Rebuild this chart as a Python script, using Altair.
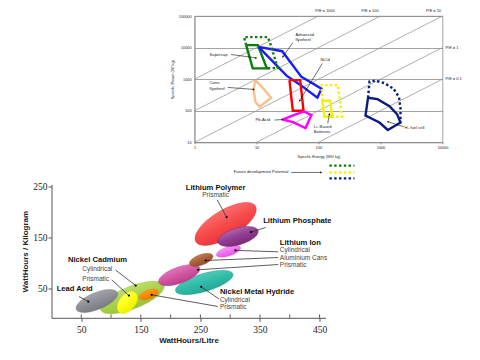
import math
import altair as alt
import numpy as np
import pandas as pd

FONT = "Liberation Sans"
SERIF = "Liberation Serif"

# ---------------- top chart (Ragone plot) data ----------------
pe_ratio = [1000, 100, 10, 1, 0.1]
pe_top_text = ["P/E = 1000", "P/E = 100", "P/E = 10"]
pe_top_E = [127, 677, 7160]
pe_side_text = ["P/E = 1", "P/E = 0.1"]
pe_side_P = [10000, 1000]

supercap_E = [6.8, 10.5, 14.7, 8.7]
supercap_P = [12000, 12000, 2200, 2200]
flywheel_adv_E = [10.8, 26, 53, 112, 96, 49, 30.5]
flywheel_adv_P = [10480, 7670, 1183, 501, 260, 695, 1290]
nicd_E = [34, 50.7, 57.3, 38.5]
nicd_P = [930, 930, 100, 100]
flywheel_conv_E = [9.5, 11.9, 14.3, 17.3, 11.2, 9.6, 9.0]
flywheel_conv_P = [929, 601, 397, 257, 133, 192, 449]
pbacid_E = [26.3, 38.1, 58.3, 77, 61.7, 38.8]
pbacid_P = [52.5, 70.3, 95, 72.9, 28.3, 43.8]
li_E = [115, 154.5, 166, 125]
li_P = [206, 206, 64.4, 64.4]
h2_E = [629, 895, 1396, 1847, 2102, 1312, 963, 573]
h2_P = [256.6, 233, 140, 78.4, 42.3, 24.5, 42.3, 70.3]

supercap_fut_E = [6.8, 6.3, 15.2, 16.6, 22, 14.7]
supercap_fut_P = [12000, 21500, 21500, 14000, 2250, 2200]
li_fut_E = [115, 112, 205, 239, 166]
li_fut_P = [206, 646, 646, 64.4, 64.4]
h2_fut_E = [629, 665, 830, 1161, 1622, 1987, 2100, 2102]
h2_fut_P = [256.6, 834, 898, 748, 500, 270, 121, 42.3]

legend_E = [150, 380]
legend_P = [1.82, 1.11, 0.718]

ann_text = ["Supercap", "Advanced", "flywheel", "NiCd", "Conv.", "flywheel",
            "Pb-Acid", "Li- Based", "Batteries", "H\u2082 fuel cell",
            "Future development Potential"]
ann_E = [1.75, 42.6, 42.6, 107.7, 1.75, 1.75, 9.64, 84, 84, 2438, 4.29]
ann_P = [6030, 25800, 17700, 4190, 731, 473, 50.7, 31.1, 21.6, 27.7, 1.11]

arrow_E1 = [3.9, 38.5, 115, 3.44, 19.5, 141, 2376, 36.3]
arrow_P1 = [6030, 14450, 3133, 547, 50.7, 39.8, 31.1, 1.11]
arrow_E2 = [9.9, 26.6, 49.4, 9.04, 26.3, 150, 1312, 110.6]
arrow_P2 = [4710, 5070, 206, 473, 52.5, 78.4, 44.8, 1.11]

W_T, H_T = 248, 126.3

solid_shapes = {
    "supercap": (supercap_E, supercap_P, "#0b7d0b"),
    "flywheel_adv": (flywheel_adv_E, flywheel_adv_P, "#1a1aff"),
    "nicd": (nicd_E, nicd_P, "#ff0000"),
    "flywheel_conv": (flywheel_conv_E, flywheel_conv_P, "#f9c08a"),
    "pbacid": (pbacid_E, pbacid_P, "#ff00ff"),
    "li": (li_E, li_P, "#f2f200"),
    "h2": (h2_E, h2_P, "#0a1a80"),
}
dotted_shapes = {
    "supercap_f": (supercap_fut_E, supercap_fut_P, "#0b7d0b"),
    "li_f": (li_fut_E, li_fut_P, "#f2f200"),
    "h2_f": (h2_fut_E, h2_fut_P, "#0a1a80"),
    "leg_g": (legend_E, [legend_P[0]] * 2, "#0b7d0b"),
    "leg_y": (legend_E, [legend_P[1]] * 2, "#f2f200"),
    "leg_n": (legend_E, [legend_P[2]] * 2, "#0a1a80"),
}


def shape_frame(shapes, close):
    rows = []
    for name, (E, P, col) in shapes.items():
        pts = list(zip(E, P))
        if close:
            pts = pts + [pts[0]]
        for i, (e, p) in enumerate(pts):
            rows.append(dict(shape=name, E=e, P=p, o=i, col=col))
    return pd.DataFrame(rows)


diag_rows = []
for r in pe_ratio:
    e0 = max(1, 10 / r)
    e1 = min(10000, 100000 / r)
    for i, e in enumerate([e0, e1]):
        diag_rows.append(dict(grp=str(r), E=e, P=e * r, o=i))
diag_df = pd.DataFrame(diag_rows)

xs_T = alt.Scale(type="log", domain=[1, 10000])
ys_T = alt.Scale(type="log", domain=[10, 100000])

axis_xT = alt.Axis(values=[1, 10, 100, 1000, 10000], format="d",
                   title="Specific Energy (Wh/ kg)", titleFont=FONT, titleFontSize=3.9,
                   titleFontWeight="normal", titleColor="#222", titlePadding=5,
                   labelFont=FONT, labelFontSize=3.8, labelColor="#222", labelPadding=2,
                   tickSize=1.5, tickColor="#888", domainColor="#8c8c8c", domainWidth=0.8,
                   grid=False, labelFlush=False)
axis_yT = alt.Axis(values=[10, 100, 1000, 10000, 100000], format="d",
                   title="Specific Power (W/ kg)", titleFont=FONT, titleFontSize=3.9,
                   titleFontWeight="normal", titleColor="#222", titlePadding=4,
                   labelFont=FONT, labelFontSize=3.8, labelColor="#222", labelPadding=3.5,
                   tickSize=0, domainColor="#8c8c8c", domainWidth=0.8,
                   grid=True, gridColor="#8c8c8c", gridWidth=0.8, labelFlush=False)

diag = alt.Chart(diag_df).mark_line(color="#8c8c8c", strokeWidth=0.7).encode(
    x=alt.X("E:Q", scale=xs_T, axis=axis_xT),
    y=alt.Y("P:Q", scale=ys_T, axis=axis_yT),
    detail="grp:N", order="o:Q")

solid = alt.Chart(shape_frame(solid_shapes, True)).mark_line(strokeWidth=2.4, strokeJoin="miter").encode(
    x=alt.X("E:Q", scale=xs_T), y=alt.Y("P:Q", scale=ys_T),
    color=alt.Color("col:N", scale=None), detail="shape:N", order="o:Q")

dotted = alt.Chart(shape_frame(dotted_shapes, False)).mark_line(
    strokeWidth=2.4, strokeDash=[2.4, 2.4], strokeCap="butt").encode(
    x=alt.X("E:Q", scale=xs_T), y=alt.Y("P:Q", scale=ys_T),
    color=alt.Color("col:N", scale=None), detail="shape:N", order="o:Q")

px_dec_x = W_T / 4.0
px_dec_y = H_T / 4.0
arr_ang = []
for e1, p1, e2, p2 in zip(arrow_E1, arrow_P1, arrow_E2, arrow_P2):
    dx = (math.log10(e2) - math.log10(e1)) * px_dec_x
    dys = -(math.log10(p2) - math.log10(p1)) * px_dec_y
    arr_ang.append(math.degrees(math.atan2(dx, -dys)) % 360)
arrow_df = pd.DataFrame(dict(E1=arrow_E1, P1=arrow_P1, E2=arrow_E2, P2=arrow_P2, ang=arr_ang))

arrows = alt.Chart(arrow_df).mark_rule(color="#111", strokeWidth=0.6).encode(
    x=alt.X("E1:Q", scale=xs_T), x2="E2:Q",
    y=alt.Y("P1:Q", scale=ys_T), y2="P2:Q")
heads = alt.Chart(arrow_df).mark_point(shape="triangle-up", filled=True, size=5, color="#111", opacity=1).encode(
    x=alt.X("E2:Q", scale=xs_T), y=alt.Y("P2:Q", scale=ys_T),
    angle=alt.Angle("ang:Q", scale=None))

ann = alt.Chart(pd.DataFrame(dict(E=ann_E, P=ann_P, t=ann_text))).mark_text(
    font=FONT, fontSize=4.2, align="left", baseline="middle", color="#222").encode(
    x=alt.X("E:Q", scale=xs_T), y=alt.Y("P:Q", scale=ys_T), text="t:N")

pe_top = alt.Chart(pd.DataFrame(dict(E=pe_top_E, P=[100000] * 3, t=pe_top_text))).mark_text(
    font=FONT, fontSize=3.9, align="center", baseline="middle", dy=-5, color="#222").encode(
    x=alt.X("E:Q", scale=xs_T), y=alt.Y("P:Q", scale=ys_T), text="t:N")
pe_side = alt.Chart(pd.DataFrame(dict(E=[10000] * 2, P=pe_side_P, t=pe_side_text))).mark_text(
    font=FONT, fontSize=3.9, align="left", baseline="middle", dx=3, color="#222").encode(
    x=alt.X("E:Q", scale=xs_T), y=alt.Y("P:Q", scale=ys_T), text="t:N")

top = alt.layer(diag, solid, dotted, arrows, heads, ann, pe_top, pe_side).properties(
    width=W_T, height=H_T, view=alt.ViewBackground(stroke="#8c8c8c", strokeWidth=0.8))

# ---------------- bottom chart (energy density ellipses) ----------------
ell_name = ["NiCd cyl", "Lead acid", "NiCd prism", "NiMH prism", "NiMH cyl",
            "Li prism", "Li alu", "Li cyl", "Li polymer", "Li phosphate"]
ell_x1 = [82.6, 41.7, 113.6, 147.3, 208.3, 180.1, 231.9, 277.0, 242.3, 279.6]
ell_y1 = [7.4, 8.5, 2.9, 30.9, 44.3, 61.1, 97.3, 114.5, 140.8, 139.6]
ell_x2 = [188.8, 110.5, 140.9, 178.9, 304.5, 248.8, 270.8, 317.4, 342.3, 346.8]
ell_y2 = [56.2, 41.3, 40.9, 44.4, 77.9, 89.9, 113.8, 129.8, 210.7, 162.9]
ell_ratio = [0.33, 0.38, 0.63, 0.43, 0.30, 0.37, 0.42, 0.36, 0.40, 0.40]
ell_light = ["#d3ea8a", "#b8b8bf", "#ffff80", "#ffa850", "#6cd9c6", "#ec90d2", "#cf9168", "#ffb8ff", "#ff9090", "#c07dc0"]
ell_base = ["#a8d14a", "#8e8e96", "#ffff10", "#ff8800", "#30bba8", "#d2559f", "#a9603a", "#f070f0", "#f74a4a", "#913c91"]
ell_dark = ["#88b52c", "#68686f", "#e0e000", "#e26c00", "#1a9787", "#ab2a83", "#86421f", "#d148d1", "#d9202e", "#6b1f6b"]

lbl_bold = ["Lithium Polymer", "Lithium Phosphate", "Lithium Ion", "Nickel Metal Hydride",
            "Nickel Cadmium", "Lead Acid"]
lbl_bold_x = [275.5, 355.4, 383.4, 282.7, 27.7, 8.7]
lbl_bold_y = [247.1, 182.5, 139.4, 42.3, 105.5, 48.2]
lbl_bold_align = ["center", "left", "left", "left", "left", "left"]

lbl_sub = ["Prismatic", "Cylindrical", "Aluminium Cans", "Prismatic", "Cylindrical",
           "Prismatic", "Cylindrical", "Prismatic"]
lbl_sub_x = [275.5, 383.4, 383.4, 383.4, 282.7, 282.7, 51.7, 51.7]
lbl_sub_y = [232.8, 124.5, 110.0, 95.7, 27.2, 12.9, 87.3, 68.9]
lbl_sub_align = ["center", "left", "left", "left", "left", "left", "left", "left"]

lead_x1 = [278.2, 359.4, 380.5, 380.5, 380.5, 281.0, 279.4, 107.7, 101.0, 46.1]
lead_y1 = [223.0, 168.8, 121.2, 110.0, 96.3, 29.2, 14.1, 85.4, 66.4, 33.7]
lead_x2 = [294.0, 335.2, 308.7, 258.9, 246.1, 251.3, 168.1, 141.3, 130.0, 61.7]
lead_y2 = [189.2, 159.8, 124.0, 104.2, 86.0, 52.7, 37.0, 55.2, 35.6, 23.9]

x_ticks_B = [50, 100, 150, 200, 250, 300, 350, 400, 450]
y_ticks_B = [50, 100, 150, 200, 250]

W_B, H_B = 274, 133.3
X_DOM = [0, 460]
Y_DOM = [-8, 253]
kx = W_B / (X_DOM[1] - X_DOM[0])
ky = H_B / (Y_DOM[1] - Y_DOM[0])

xs_B = alt.Scale(domain=X_DOM, nice=False, zero=False)
ys_B = alt.Scale(domain=Y_DOM, nice=False, zero=False)

axis_xB = alt.Axis(values=x_ticks_B, title="WattHours/Litre", titleFont=FONT, titleFontSize=8,
                   titleFontWeight="bold", titleColor="#222", titlePadding=3,
                   labelFont=SERIF, labelFontSize=9.5, labelColor="#222", labelPadding=3,
                   tickSize=3.5, tickColor="#555", domainColor="#555", grid=False, labelFlush=False)
axis_yB = alt.Axis(values=y_ticks_B, title="WattHours / Kilogram", titleFont=FONT, titleFontSize=8,
                   titleFontWeight="bold", titleColor="#222", titlePadding=3,
                   labelFont=SERIF, labelFontSize=9.5, labelColor="#222", labelPadding=1,
                   tickSize=3.5, tickColor="#555", domainColor="#555", grid=False, labelFlush=False)

n_pts = 90
ell_layers = []
for i in range(len(ell_name)):
    p1 = np.array([ell_x1[i] * kx, ell_y1[i] * ky])
    p2 = np.array([ell_x2[i] * kx, ell_y2[i] * ky])
    c = (p1 + p2) / 2
    u = (p2 - p1) / 2
    nvec = np.array([-u[1], u[0]]) * ell_ratio[i]
    t = np.linspace(0, 2 * np.pi, n_pts + 1)
    pts = c[None, :] + np.outer(np.cos(t), u) + np.outer(np.sin(t), nvec)
    df = pd.DataFrame(dict(X=pts[:, 0] / kx, Y=pts[:, 1] / ky, o=np.arange(n_pts + 1)))
    grad = alt.LinearGradient(gradient="linear", stops=[
        alt.GradientStop(color=ell_light[i], offset=0),
        alt.GradientStop(color=ell_base[i], offset=0.5),
        alt.GradientStop(color=ell_dark[i], offset=1)], x1=0.15, y1=0, x2=0.85, y2=1)
    enc = dict(x=alt.X("X:Q", scale=xs_B), y=alt.Y("Y:Q", scale=ys_B), order="o:Q")
    if i == 0:
        enc["x"] = alt.X("X:Q", scale=xs_B, axis=axis_xB)
        enc["y"] = alt.Y("Y:Q", scale=ys_B, axis=axis_yB)
    ell_layers.append(alt.Chart(df).mark_line(fill=grad, stroke=ell_dark[i], strokeWidth=0.4).encode(**enc))

lead_df = pd.DataFrame(dict(X1=lead_x1, Y1=lead_y1, X2=lead_x2, Y2=lead_y2))
leaders = alt.Chart(lead_df).mark_rule(color="#333", strokeWidth=0.8).encode(
    x=alt.X("X1:Q", scale=xs_B), x2="X2:Q", y=alt.Y("Y1:Q", scale=ys_B), y2="Y2:Q")
dots = alt.Chart(lead_df).mark_circle(size=5, color="#000", opacity=1).encode(
    x=alt.X("X2:Q", scale=xs_B), y=alt.Y("Y2:Q", scale=ys_B))

bold_layers = []
for al in ["left", "center"]:
    d = pd.DataFrame(dict(X=lbl_bold_x, Y=lbl_bold_y, t=lbl_bold, a=lbl_bold_align))
    d = d[d.a == al]
    bold_layers.append(alt.Chart(d).mark_text(font=FONT, fontSize=7.6, fontWeight="bold", align=al,
                                              baseline="middle", color="#111").encode(
        x=alt.X("X:Q", scale=xs_B), y=alt.Y("Y:Q", scale=ys_B), text="t:N"))
    d2 = pd.DataFrame(dict(X=lbl_sub_x, Y=lbl_sub_y, t=lbl_sub, a=lbl_sub_align))
    d2 = d2[d2.a == al]
    bold_layers.append(alt.Chart(d2).mark_text(font=FONT, fontSize=6.5, align=al,
                                               baseline="middle", color="#444").encode(
        x=alt.X("X:Q", scale=xs_B), y=alt.Y("Y:Q", scale=ys_B), text="t:N"))

inner_ticks = alt.Chart(pd.DataFrame(dict(X=x_ticks_B))).mark_rule(color="#555", strokeWidth=1).encode(
    x=alt.X("X:Q", scale=xs_B), y=alt.value(H_B - 3.3), y2=alt.value(H_B))

bottom = alt.layer(*ell_layers, inner_ticks, leaders, dots, *bold_layers).properties(width=W_B, height=H_B)

# empty spacer that shifts the upper panel to the right of the lower panel's origin
spacer = alt.Chart(pd.DataFrame(dict(s=[0]))).mark_point(opacity=0, size=1).encode(
    x=alt.value(2), y=alt.value(2)).properties(width=142.5, height=H_T)

GAP = 42.2
row1 = alt.hconcat(spacer, top, spacing=0, bounds="flush")
# the nested row's height is not counted by the flush layout, so it is added to the spacing
chart = alt.vconcat(row1, bottom, spacing=GAP + H_T, bounds="flush").properties(
    padding={"left": 13.5, "top": 0, "right": 0, "bottom": 0}
).configure_view(stroke=None)

chart.save("out.html", embed_options={"renderer": "svg", "actions": False})
